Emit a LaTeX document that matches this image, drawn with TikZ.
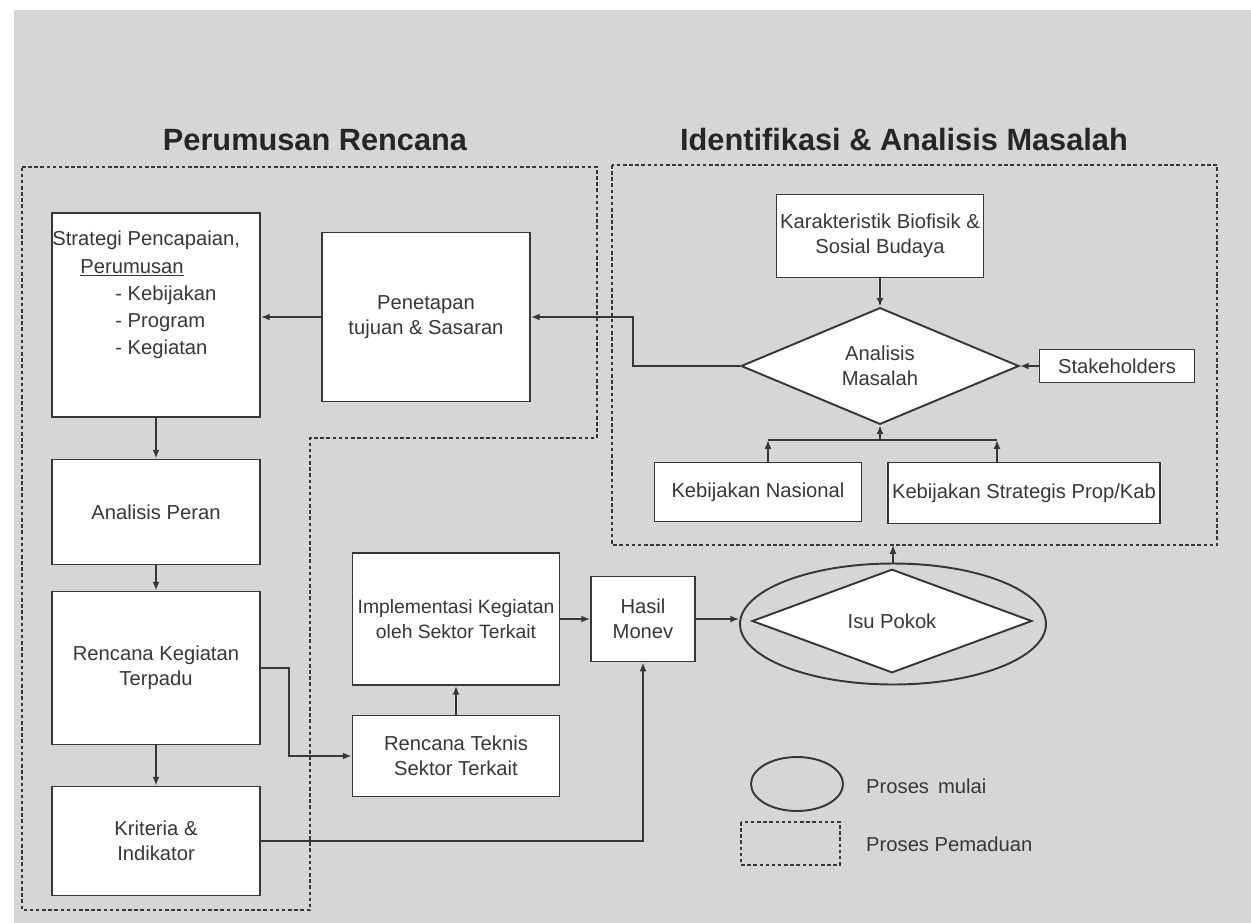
\documentclass[tikz,border=0pt]{standalone}
\usepackage{fontspec}
\setmainfont{Liberation Sans}
\usetikzlibrary{shapes.geometric}
\usetikzlibrary{arrows.meta}
\definecolor{bggray}{RGB}{214,214,214}
\definecolor{inkgray}{RGB}{55,55,55}
\tikzset{
  box/.style={draw=inkgray, line width=1.1pt, fill=white, inner sep=2pt, align=center,
    text=inkgray, font=\fontsize{11.5}{14.5}\selectfont},
  conn/.style={draw=inkgray, line width=1pt, -{Latex[length=5pt,width=4pt]}},
  wire/.style={draw=inkgray, line width=1pt},
  pemaduan/.style={draw=inkgray, line width=0.8pt, dash pattern=on 2pt off 1.5pt},
  judul/.style={font=\fontsize{17.5}{20}\selectfont\bfseries, text=black!85},
  ket/.style={text=inkgray, font=\fontsize{11.5}{14.5}\selectfont, anchor=west}
}
\begin{document}
\begin{tikzpicture}[x=0.02cm, y=-0.02cm]
    \useasboundingbox (0,0) rectangle (1251,923);
    \fill[white] (0,0) rectangle (1251,923);
    \fill[bggray] (14,10) rectangle (1251,923);
    %titles
    \node[judul] (jdlkiri) at (315,140) {Perumusan Rencana};
    \node[judul] (jdlkanan) at (904,140) {Identifikasi \& Analisis Masalah};
    %integration areas
    \draw[pemaduan] (22,167) -- (597,167) -- (597,438) -- (310,438) -- (310,910) -- (22,910) -- cycle;
    \draw[pemaduan] (612,165) rectangle (1217,545);
    %left column
    \node[box, minimum width=4.16cm, minimum height=4.08cm] (strategi) at (156,315) {};
    \node[text=inkgray, font=\fontsize{11.5}{15.4}\selectfont, align=left, anchor=north west, inner sep=0pt]
      (strategiteks) at (52,231) {Strategi Pencapaian,\\
      \hspace*{0.56cm}\underline{Perumusan}\\
      \hspace*{1.26cm}- Kebijakan\\
      \hspace*{1.26cm}- Program\\
      \hspace*{1.26cm}- Kegiatan};
    \node[box, minimum width=4.16cm, minimum height=2.1cm] (peran) at (156,512) {Analisis Peran};
    \node[box, minimum width=4.16cm, minimum height=3.06cm] (terpadu) at (156,668) {Rencana Kegiatan\\Terpadu};
    \node[box, minimum width=4.16cm, minimum height=2.18cm] (kriteria) at (156,841) {Kriteria \&\\Indikator};
    %middle
    \node[box, minimum width=4.16cm, minimum height=3.38cm] (penetapan) at (426,317) {Penetapan\\tujuan \& Sasaran};
    \node[box, inner sep=1pt, font=\fontsize{11}{14.5}\selectfont, minimum width=4.14cm, minimum height=2.64cm]
      (implementasi) at (456,619) {Implementasi Kegiatan\\oleh Sektor Terkait};
    \node[box, minimum width=4.14cm, minimum height=1.62cm] (teknis) at (456,756) {Rencana Teknis\\Sektor Terkait};
    \node[box, minimum width=2.08cm, minimum height=1.7cm] (monev) at (643,619) {Hasil\\Monev};
    %right area
    \node[box, minimum width=4.14cm, minimum height=1.66cm] (karakteristik) at (880,236) {Karakteristik Biofisik \&\\Sosial Budaya};
    \node[box, diamond, inner sep=0pt, minimum width=5.56cm, minimum height=2.1cm] (analisis) at (880,366) {Analisis\\Masalah};
    \node[box, minimum width=3.1cm, minimum height=0.66cm] (stakeholders) at (1117,366) {Stakeholders};
    \node[box, minimum width=4.14cm, minimum height=1.18cm] (nasional) at (758,492) {Kebijakan Nasional};
    \node[box, minimum width=5.44cm, minimum height=1.22cm] (propkab) at (1024,493) {Kebijakan Strategis Prop/Kab};
    %starting issue
    \node[draw=inkgray, line width=1.1pt, ellipse, minimum width=6.12cm, minimum height=2.42cm] (mulai) at (893,624) {};
    \node[box, diamond, inner sep=0pt, minimum width=5.6cm, minimum height=1.68cm] (isu) at (892,621) {Isu Pokok};
    %legend
    \node[draw=inkgray, line width=1.1pt, ellipse, minimum width=1.84cm, minimum height=1.08cm] (lgmulai) at (797,784) {};
    \node[ket] (ketmulai) at (860,786) {Proses\, mulai};
    \draw[pemaduan] (741,822) rectangle (840,865);
    \node[ket] (ketpemaduan) at (860,844) {Proses Pemaduan};
    %connectors left column
    \draw[conn] (strategi) -- (peran);
    \draw[conn] (peran) -- (terpadu);
    \draw[conn] (terpadu) -- (kriteria);
    \draw[conn] (penetapan.west) -- (strategi.east |- penetapan.west);
    \draw[conn] (analisis.west) -- ++(-107,0) |- (penetapan.east);
    %connectors right area
    \draw[conn] (karakteristik) -- (analisis);
    \draw[conn] (stakeholders) -- (analisis.east);
    \coordinate (bar) at (880,440);
    \coordinate (barkiri) at (768,440);
    \coordinate (barkanan) at (997,440);
    \draw[conn] (barkiri |- nasional.north) -- (barkiri);
    \draw[conn] (barkanan |- propkab.north) -- (barkanan);
    \draw[wire] (barkiri) -- (barkanan);
    \draw[conn] (bar) -- (analisis.south);
    \coordinate (batas) at (893,545);
    \draw[conn] (mulai.north) -- (batas);
    %connectors bottom
    \draw[conn] (terpadu.east) -- ++(28,0) |- (teknis.west);
    \draw[conn] (teknis) -- (implementasi);
    \draw[conn] (implementasi.east) -- (monev.west |- implementasi.east);
    \draw[conn] (monev.east) -- (mulai.west |- monev.east);
    \draw[conn] (kriteria.east) -| (monev.south);
\end{tikzpicture}
\end{document}
